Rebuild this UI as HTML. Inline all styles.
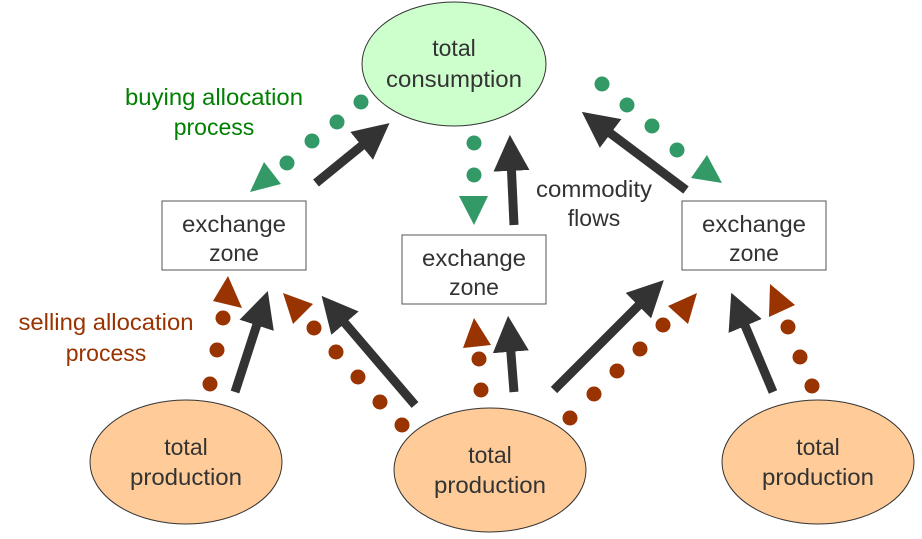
<!DOCTYPE html>
<html><head><meta charset="utf-8"><style>
html,body{margin:0;padding:0;background:#fff;}
svg{display:block;}
text{font-family:"Liberation Sans",Arial,sans-serif;font-size:23px;text-anchor:middle;}
</style></head><body>
<svg width="922" height="539" viewBox="0 0 922 539" xmlns="http://www.w3.org/2000/svg">
<defs>
<marker id="ah" markerWidth="4" markerHeight="4" refX="1.2" refY="2" orient="auto" markerUnits="strokeWidth">
<path d="M0,0 L4,2 L0,4 z" fill="#333"/>
</marker>
</defs>
<ellipse cx="454" cy="64" rx="92" ry="62" fill="#ccffcc" stroke="#333" stroke-width="1"/>
<ellipse cx="186" cy="462" rx="96" ry="62" fill="#ffcc99" stroke="#333" stroke-width="1"/>
<ellipse cx="490" cy="470" rx="96" ry="62" fill="#ffcc99" stroke="#333" stroke-width="1"/>
<ellipse cx="818" cy="462" rx="96" ry="62" fill="#ffcc99" stroke="#333" stroke-width="1"/>
<rect x="162" y="201" width="144" height="69" fill="#fff" stroke="#555" stroke-width="1"/>
<rect x="402" y="235" width="144" height="69" fill="#fff" stroke="#555" stroke-width="1"/>
<rect x="682" y="201" width="144" height="69" fill="#fff" stroke="#555" stroke-width="1"/>
<g stroke="#333" stroke-width="9" marker-end="url(#ah)" fill="none">
<line x1="316" y1="183" x2="370" y2="139"/>
<line x1="514" y1="225" x2="511" y2="160"/>
<line x1="686" y1="190" x2="602" y2="127"/>
<line x1="235" y1="392" x2="260" y2="315"/>
<line x1="415" y1="405" x2="338" y2="315"/>
<line x1="514" y1="392" x2="510" y2="341"/>
<line x1="554" y1="390" x2="646" y2="298"/>
<line x1="773" y1="392" x2="741" y2="316"/>
</g>
<g fill="#339966">
<circle cx="361" cy="102" r="7.5"/><circle cx="337" cy="122" r="7.5"/><circle cx="312" cy="141" r="7.5"/><circle cx="287" cy="163" r="7.5"/>
<polygon points="250,192 264,162 281,184"/>
<circle cx="474" cy="143" r="7.5"/><circle cx="474" cy="175" r="7.5"/>
<polygon points="459,196 488,196 474,225"/>
<circle cx="602" cy="84" r="7.5"/><circle cx="627" cy="105" r="7.5"/><circle cx="652" cy="126" r="7.5"/><circle cx="677" cy="150" r="7.5"/>
<polygon points="722,183 691,178 707,155"/>
</g>
<g fill="#993300">
<circle cx="223" cy="318" r="7.5"/><circle cx="217" cy="350" r="7.5"/><circle cx="210" cy="384" r="7.5"/>
<polygon points="228,276 213,301 242,308"/>
<circle cx="314" cy="328" r="7.5"/><circle cx="336" cy="352" r="7.5"/><circle cx="358" cy="377" r="7.5"/><circle cx="380" cy="402" r="7.5"/><circle cx="402" cy="425" r="7.5"/>
<polygon points="283,293 313,304 293,324"/>
<circle cx="479" cy="359" r="7.5"/><circle cx="481" cy="390" r="7.5"/>
<polygon points="474,318 463,348 491,345"/>
<circle cx="570" cy="418" r="7.5"/><circle cx="594" cy="394" r="7.5"/><circle cx="617" cy="371" r="7.5"/><circle cx="640" cy="349" r="7.5"/><circle cx="663" cy="325" r="7.5"/>
<polygon points="697,293 688,324 668,306"/>
<circle cx="788" cy="327" r="7.5"/><circle cx="800" cy="357" r="7.5"/><circle cx="812" cy="386" r="7.5"/>
<polygon points="770,284 795,305 769,317"/>
</g>
<g fill="#333">
<text x="454" y="56">total</text><text x="454" y="87" textLength="136" lengthAdjust="spacingAndGlyphs">consumption</text>
<text x="234" y="232" textLength="104" lengthAdjust="spacingAndGlyphs">exchange</text><text x="234" y="261">zone</text>
<text x="474" y="266" textLength="104" lengthAdjust="spacingAndGlyphs">exchange</text><text x="474" y="295">zone</text>
<text x="754" y="232" textLength="104" lengthAdjust="spacingAndGlyphs">exchange</text><text x="754" y="261">zone</text>
<text x="186" y="455">total</text><text x="186" y="485" textLength="112" lengthAdjust="spacingAndGlyphs">production</text>
<text x="490" y="463">total</text><text x="490" y="493" textLength="112" lengthAdjust="spacingAndGlyphs">production</text>
<text x="818" y="455">total</text><text x="818" y="485" textLength="112" lengthAdjust="spacingAndGlyphs">production</text>
<text x="594" y="197" textLength="116" lengthAdjust="spacingAndGlyphs">commodity</text><text x="594" y="226">flows</text>
</g>
<g fill="#008000">
<text x="214" y="105" textLength="178" lengthAdjust="spacingAndGlyphs">buying allocation</text><text x="214" y="135">process</text>
</g>
<g fill="#993300">
<text x="106" y="330" textLength="175" lengthAdjust="spacingAndGlyphs">selling allocation</text><text x="106" y="361">process</text>
</g>
</svg>
</body></html>
